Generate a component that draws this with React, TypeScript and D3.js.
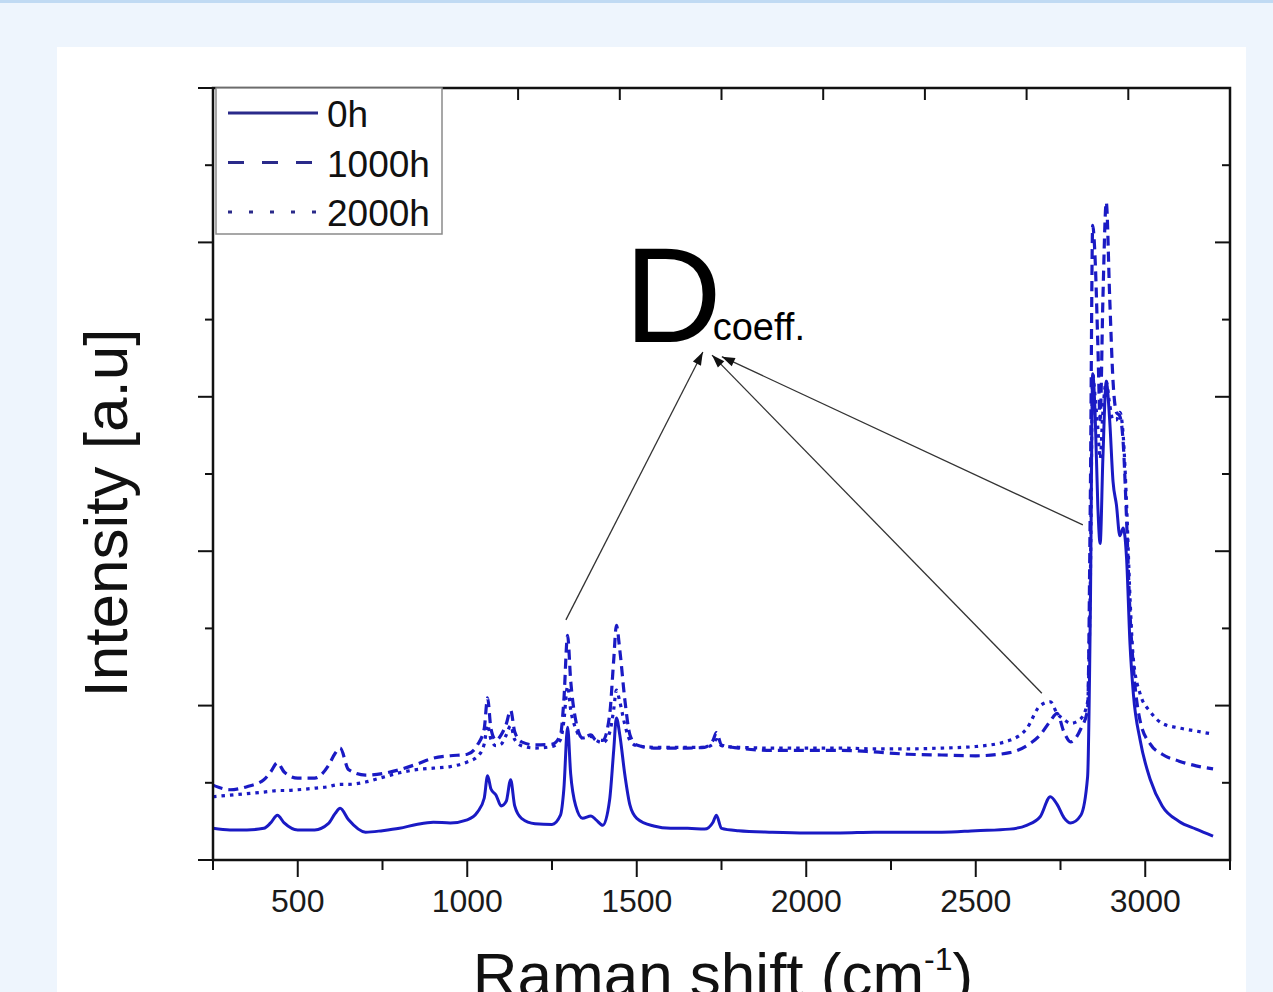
import React from "react";
import * as d3 from "d3";

// ---------- data ----------
const WAVENUMBER = [
  250, 300, 350, 400, 420, 440, 460, 500, 550, 590, 610, 625, 650, 700, 750, 800, 850, 900, 950, 1000,
  1030, 1050, 1060, 1070, 1085, 1100, 1115, 1128, 1140, 1160, 1200, 1250, 1275, 1285, 1296, 1305, 1320, 1340,
  1365, 1380, 1400, 1420, 1432, 1440, 1450, 1465, 1480, 1500, 1550, 1600, 1650, 1700, 1725, 1735, 1750, 1800,
  1900, 2000, 2100, 2200, 2300, 2400, 2500, 2600, 2650, 2690, 2720, 2740, 2760, 2780, 2810, 2830, 2838, 2845,
  2852, 2860, 2867, 2875, 2885, 2895, 2905, 2915, 2925, 2935, 2945, 2955, 2965, 2985, 3015, 3050, 3100, 3150, 3200,
];

const INTENSITY_0H = [
  0.41, 0.39, 0.39, 0.41, 0.48, 0.58, 0.48, 0.39, 0.39, 0.47, 0.6, 0.67, 0.52, 0.36, 0.38, 0.41, 0.46, 0.49, 0.48, 0.52,
  0.62, 0.8, 1.09, 0.92, 0.84, 0.7, 0.76, 1.04, 0.7, 0.54, 0.47, 0.46, 0.58, 0.92, 1.72, 1.12, 0.7, 0.54,
  0.57, 0.52, 0.45, 0.78, 1.42, 1.84, 1.62, 1.1, 0.71, 0.54, 0.44, 0.41, 0.41, 0.4, 0.49, 0.58, 0.41, 0.38,
  0.36, 0.35, 0.35, 0.36, 0.36, 0.36, 0.38, 0.4, 0.45, 0.56, 0.82, 0.72, 0.55, 0.48, 0.58, 1.08, 3.2, 6.3,
  5.8, 4.6, 4.1, 5.2, 6.2, 5.7, 4.9, 4.6, 4.2, 4.3, 3.9, 2.8, 2.15, 1.55, 1.04, 0.7, 0.5, 0.4, 0.31,
];

const INTENSITY_1000H = [
  0.97, 0.91, 0.95, 1.04, 1.14, 1.26, 1.14, 1.06, 1.06, 1.22, 1.38, 1.45, 1.17, 1.1, 1.12, 1.17, 1.24, 1.32, 1.35, 1.37,
  1.49, 1.7, 2.1, 1.7, 1.55, 1.62, 1.76, 1.94, 1.66, 1.53, 1.49, 1.5, 1.62, 2.07, 2.91, 2.33, 1.81, 1.58,
  1.62, 1.55, 1.55, 1.88, 2.59, 3.04, 2.72, 2.07, 1.62, 1.49, 1.45, 1.45, 1.45, 1.46, 1.55, 1.65, 1.49, 1.45,
  1.42, 1.42, 1.42, 1.4, 1.37, 1.36, 1.35, 1.39, 1.48, 1.62, 1.8, 1.9, 1.66, 1.53, 1.7, 1.95, 4.7, 8.22,
  7.8, 6.7, 5.7, 7.25, 8.52, 7.3, 6.2, 5.8, 5.75, 5.4, 4.4, 3.2, 2.5, 1.8, 1.5, 1.37, 1.28, 1.22, 1.18,
];

const INTENSITY_2000H = [
  0.82, 0.84, 0.86, 0.88, 0.89, 0.9, 0.9, 0.91, 0.93, 0.95, 0.97, 0.98, 0.98, 1.01, 1.07, 1.13, 1.17, 1.19, 1.21, 1.27,
  1.34, 1.5, 1.75, 1.56, 1.48, 1.5, 1.62, 1.74, 1.56, 1.48, 1.45, 1.47, 1.56, 1.8, 2.25, 1.95, 1.7, 1.58,
  1.6, 1.55, 1.52, 1.65, 1.95, 2.2, 2.05, 1.75, 1.55, 1.48, 1.46, 1.46, 1.46, 1.46, 1.5, 1.56, 1.48, 1.46,
  1.45, 1.45, 1.45, 1.44, 1.44, 1.45, 1.47, 1.55, 1.7, 2.0, 2.05, 1.9, 1.82, 1.77, 1.83, 2.05, 3.6, 6.3,
  6.0, 5.6, 5.2, 5.8, 6.2, 5.9, 5.7, 5.7, 5.8, 5.5, 4.6, 3.4, 2.6, 2.15, 1.92, 1.77, 1.71, 1.67, 1.63,
];

const SERIES_NAMES = ["0h", "1000h", "2000h"];

const X_MAJOR_TICKS = [500, 1000, 1500, 2000, 2500, 3000];
const X_TICK_LABELS = ["500", "1000", "1500", "2000", "2500", "3000"];
const X_MINOR_TICKS = [250, 750, 1250, 1750, 2250, 2750, 3250];
const X_TOP_TICKS = [550, 850, 1150, 1450, 1750, 2050, 2350, 2650, 2950];
const Y_MAJOR_TICKS = [0, 2, 4, 6, 8, 10];
const Y_MINOR_TICKS = [1, 3, 5, 7, 9];

// annotation: label anchor and arrows (data coordinates)
const LABEL_MAIN = "D";
const LABEL_SUB = "coeff.";
const LABEL_AT = [1463, 6.71];
const ARROWS_FROM = [
  [1291, 3.11],
  [2695, 2.16],
  [2816, 4.34],
];
const ARROWS_TO = [
  [1695, 6.58],
  [1722, 6.54],
  [1751, 6.52],
];

// ---------- styles ----------
const BLUE = "#1a1ac4";
const FONT = "'Liberation Sans', Arial, Helvetica, sans-serif";
const PLOT_DASH = ["", "10,6", "3.5,5"];
const LEGEND_DASH = ["", "16,18", "4,17"];

export default function App() {
  const W = 1273;
  const H = 992;
  const L = 213, R = 1230, T = 88, B = 860;

  const x = d3.scaleLinear().domain([250, 3250]).range([L, R]);
  const y = d3.scaleLinear().domain([0, 10]).range([B, T]);

  const seriesValues = [INTENSITY_0H, INTENSITY_1000H, INTENSITY_2000H];
  const lineGen = d3
    .line<number>()
    .x((_, i) => x(WAVENUMBER[i]))
    .y((d) => y(d))
    .curve(d3.curveMonotoneX);

  const drawOrder = [2, 1, 0];

  const arrowHead = (fx: number, fy: number, tx: number, ty: number) => {
    const ang = Math.atan2(ty - fy, tx - fx);
    const len = 13, half = 4.5;
    const bx = tx - len * Math.cos(ang), by = ty - len * Math.sin(ang);
    const p1 = [bx + half * Math.sin(ang), by - half * Math.cos(ang)];
    const p2 = [bx - half * Math.sin(ang), by + half * Math.cos(ang)];
    return `M${tx},${ty}L${p1[0]},${p1[1]}L${p2[0]},${p2[1]}Z`;
  };

  return (
    <svg
      width={W}
      height={H}
      style={{ position: "absolute", left: 0, top: 0, display: "block" }}
      fontFamily={FONT}
    >
      <defs>
        <clipPath id="plotclip">
          <rect x={L} y={T} width={R - L} height={B - T} />
        </clipPath>
      </defs>
      <rect x={0} y={0} width={W} height={H} fill="#eef5fd" />
      <rect x={0} y={0} width={W} height={3} fill="#c0daf3" />
      <rect x={57} y={47} width={1189} height={H - 47} fill="#ffffff" />

      {/* series */}
      <g clipPath="url(#plotclip)">
        {drawOrder.map((k) => (
          <path
            key={SERIES_NAMES[k]}
            d={lineGen(seriesValues[k]) || ""}
            fill="none"
            stroke={BLUE}
            strokeWidth={k === 0 ? 3 : 3.2}
            strokeDasharray={PLOT_DASH[k] || undefined}
            strokeLinejoin="round"
          />
        ))}
      </g>

      {/* frame */}
      <rect x={L} y={T} width={R - L} height={B - T} fill="none" stroke="#111" strokeWidth={2.5} />

      {/* bottom ticks (outward) */}
      {X_MAJOR_TICKS.map((v) => (
        <line key={"xb" + v} x1={x(v)} x2={x(v)} y1={B} y2={B + 17} stroke="#111" strokeWidth={2} />
      ))}
      {X_MINOR_TICKS.map((v) => (
        <line key={"xbm" + v} x1={x(v)} x2={x(v)} y1={B} y2={B + 10} stroke="#111" strokeWidth={2} />
      ))}
      {X_MAJOR_TICKS.map((v, i) => (
        <text key={"xl" + v} x={x(v)} y={912} fontSize={32} textAnchor="middle" fill="#1a1a1a">
          {X_TICK_LABELS[i]}
        </text>
      ))}
      {/* top ticks (inward) */}
      {X_TOP_TICKS.map((v) => (
        <line key={"xt" + v} x1={x(v)} x2={x(v)} y1={T} y2={T + 12} stroke="#111" strokeWidth={2} />
      ))}
      {/* left ticks (outward) */}
      {Y_MAJOR_TICKS.map((v) => (
        <line key={"yl" + v} x1={L - 15} x2={L} y1={y(v)} y2={y(v)} stroke="#111" strokeWidth={2} />
      ))}
      {Y_MINOR_TICKS.map((v) => (
        <line key={"ylm" + v} x1={L - 8} x2={L} y1={y(v)} y2={y(v)} stroke="#111" strokeWidth={2} />
      ))}
      {/* right ticks (inward) */}
      {Y_MAJOR_TICKS.map((v) => (
        <line key={"yr" + v} x1={R - 15} x2={R} y1={y(v)} y2={y(v)} stroke="#111" strokeWidth={2} />
      ))}
      {Y_MINOR_TICKS.map((v) => (
        <line key={"yrm" + v} x1={R - 8} x2={R} y1={y(v)} y2={y(v)} stroke="#111" strokeWidth={2} />
      ))}

      {/* axis titles (cropped at the bottom edge, as in the reference) */}
      <text x={723} y={996} fontSize={62} textAnchor="middle" fill="#111">
        Raman shift (cm
        <tspan fontSize={32} dy={-26}>-1</tspan>
        <tspan dy={26}>)</tspan>
      </text>
      <text
        transform={`translate(127,513) rotate(-90)`}
        fontSize={62}
        textAnchor="middle"
        fill="#111"
      >
        Intensity [a.u]
      </text>

      {/* legend */}
      <rect x={L + 3} y={T} width={226} height={146} fill="#fff" stroke="#8a8a8a" strokeWidth={1.5} />
      {SERIES_NAMES.map((name, i) => {
        const ry = 113 + i * 49.5;
        return (
          <g key={"lg" + name}>
            <line
              x1={228}
              x2={318}
              y1={ry}
              y2={ry}
              stroke="#2a2a8a"
              strokeWidth={3}
              strokeDasharray={LEGEND_DASH[i] || undefined}
            />
            <text x={327} y={ry + 14} fontSize={37} fill="#111">
              {name}
            </text>
          </g>
        );
      })}

      {/* annotation */}
      <text x={x(LABEL_AT[0])} y={y(LABEL_AT[1])} fill="#000">
        <tspan fontSize={135}>{LABEL_MAIN}</tspan>
        <tspan fontSize={38} dx={-9} dy={-2}>{LABEL_SUB}</tspan>
      </text>
      {ARROWS_FROM.map((f, i) => {
        const fx = x(f[0]), fy = y(f[1]);
        const tx = x(ARROWS_TO[i][0]), ty = y(ARROWS_TO[i][1]);
        return (
          <g key={"ar" + i}>
            <line x1={fx} y1={fy} x2={tx} y2={ty} stroke="#333" strokeWidth={1.3} />
            <path d={arrowHead(fx, fy, tx, ty)} fill="#111" />
          </g>
        );
      })}
    </svg>
  );
}
